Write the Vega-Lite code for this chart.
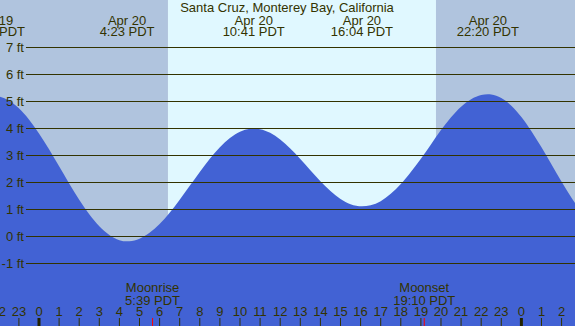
{
  "$schema": "https://vega.github.io/schema/vega-lite/v6.json",
  "width": 575,
  "height": 326,
  "autosize": "none",
  "padding": 0,
  "config": {
    "view": {"stroke": null},
    "text": {"font": "Liberation Sans", "fontSize": 13, "color": "#333300"}
  },
  "datasets": {
    "sky": [
      {"period": "night", "start": -3, "end": 6.417},
      {"period": "day", "start": 6.417, "end": 19.75},
      {"period": "night", "start": 19.75, "end": 28}
    ],
    "tide": [
      {"h": -2.5, "ft": 5.18},
      {"h": -2.24, "ft": 5.2},
      {"h": -2.0, "ft": 5.183},
      {"h": -1.5, "ft": 5.036},
      {"h": -1.0, "ft": 4.748},
      {"h": -0.5, "ft": 4.334},
      {"h": 0.0, "ft": 3.819},
      {"h": 0.5, "ft": 3.23},
      {"h": 1.0, "ft": 2.601},
      {"h": 1.5, "ft": 1.967},
      {"h": 2.0, "ft": 1.362},
      {"h": 2.5, "ft": 0.823},
      {"h": 3.0, "ft": 0.38},
      {"h": 3.5, "ft": 0.057},
      {"h": 4.0, "ft": -0.135},
      {"h": 4.383, "ft": -0.18},
      {"h": 4.5, "ft": -0.176},
      {"h": 5.0, "ft": -0.082},
      {"h": 5.5, "ft": 0.136},
      {"h": 6.0, "ft": 0.463},
      {"h": 6.5, "ft": 0.88},
      {"h": 7.0, "ft": 1.361},
      {"h": 7.5, "ft": 1.876},
      {"h": 8.0, "ft": 2.392},
      {"h": 8.5, "ft": 2.88},
      {"h": 9.0, "ft": 3.307},
      {"h": 9.5, "ft": 3.645},
      {"h": 10.0, "ft": 3.88},
      {"h": 10.5, "ft": 3.992},
      {"h": 10.683, "ft": 4.0},
      {"h": 11.0, "ft": 3.975},
      {"h": 11.5, "ft": 3.839},
      {"h": 12.0, "ft": 3.595},
      {"h": 12.5, "ft": 3.263},
      {"h": 13.0, "ft": 2.873},
      {"h": 13.5, "ft": 2.455},
      {"h": 14.0, "ft": 2.046},
      {"h": 14.5, "ft": 1.682},
      {"h": 15.0, "ft": 1.389},
      {"h": 15.5, "ft": 1.198},
      {"h": 16.067, "ft": 1.12},
      {"h": 16.5, "ft": 1.16},
      {"h": 17.0, "ft": 1.31},
      {"h": 17.5, "ft": 1.58},
      {"h": 18.0, "ft": 1.94},
      {"h": 18.5, "ft": 2.39},
      {"h": 19.0, "ft": 2.88},
      {"h": 19.5, "ft": 3.41},
      {"h": 20.0, "ft": 3.94},
      {"h": 20.5, "ft": 4.42},
      {"h": 21.0, "ft": 4.81},
      {"h": 21.5, "ft": 5.085},
      {"h": 22.0, "ft": 5.24},
      {"h": 22.333, "ft": 5.27},
      {"h": 22.5, "ft": 5.261},
      {"h": 23.0, "ft": 5.128},
      {"h": 23.5, "ft": 4.845},
      {"h": 24.0, "ft": 4.427},
      {"h": 24.5, "ft": 3.901},
      {"h": 25.0, "ft": 3.302},
      {"h": 25.5, "ft": 2.663},
      {"h": 26.0, "ft": 2.026},
      {"h": 26.5, "ft": 1.428},
      {"h": 27.0, "ft": 0.908},
      {"h": 27.5, "ft": 0.502}
    ],
    "feet": [
      {"ft": -1, "label": "-1 ft"},
      {"ft": 0, "label": "0 ft"},
      {"ft": 1, "label": "1 ft"},
      {"ft": 2, "label": "2 ft"},
      {"ft": 3, "label": "3 ft"},
      {"ft": 4, "label": "4 ft"},
      {"ft": 5, "label": "5 ft"},
      {"ft": 6, "label": "6 ft"},
      {"ft": 7, "label": "7 ft"}
    ],
    "extremes": [
      {"h": -2.24, "date": "Apr 19", "time": "21:46 PDT"},
      {"h": 4.383, "date": "Apr 20", "time": "4:23 PDT"},
      {"h": 10.683, "date": "Apr 20", "time": "10:41 PDT"},
      {"h": 16.067, "date": "Apr 20", "time": "16:04 PDT"},
      {"h": 22.333, "date": "Apr 20", "time": "22:20 PDT"}
    ],
    "moon": [
      {"h": 5.65, "event": "Moonrise", "time": "5:39 PDT"},
      {"h": 19.167, "event": "Moonset", "time": "19:10 PDT"}
    ],
    "hours": [
      {"h": -2, "label": "22", "midnight": false},
      {"h": -1, "label": "23", "midnight": false},
      {"h": 0, "label": "0", "midnight": true},
      {"h": 1, "label": "1", "midnight": false},
      {"h": 2, "label": "2", "midnight": false},
      {"h": 3, "label": "3", "midnight": false},
      {"h": 4, "label": "4", "midnight": false},
      {"h": 5, "label": "5", "midnight": false},
      {"h": 6, "label": "6", "midnight": false},
      {"h": 7, "label": "7", "midnight": false},
      {"h": 8, "label": "8", "midnight": false},
      {"h": 9, "label": "9", "midnight": false},
      {"h": 10, "label": "10", "midnight": false},
      {"h": 11, "label": "11", "midnight": false},
      {"h": 12, "label": "12", "midnight": false},
      {"h": 13, "label": "13", "midnight": false},
      {"h": 14, "label": "14", "midnight": false},
      {"h": 15, "label": "15", "midnight": false},
      {"h": 16, "label": "16", "midnight": false},
      {"h": 17, "label": "17", "midnight": false},
      {"h": 18, "label": "18", "midnight": false},
      {"h": 19, "label": "19", "midnight": false},
      {"h": 20, "label": "20", "midnight": false},
      {"h": 21, "label": "21", "midnight": false},
      {"h": 22, "label": "22", "midnight": false},
      {"h": 23, "label": "23", "midnight": false},
      {"h": 24, "label": "0", "midnight": true},
      {"h": 25, "label": "1", "midnight": false},
      {"h": 26, "label": "2", "midnight": false}
    ]
  },
  "layer": [
    {
      "data": {"name": "sky"},
      "mark": {"type": "rect", "clip": true},
      "encoding": {
        "x": {"field": "start", "type": "quantitative", "scale": {"domain": [-1.94, 26.667], "nice": false, "zero": false}, "axis": null},
        "x2": {"field": "end"},
        "y": {"datum": 8.7593, "type": "quantitative", "scale": {"domain": [-3.3148, 8.7593], "nice": false, "zero": false}, "axis": null},
        "y2": {"datum": -3.3148},
        "color": {"field": "period", "type": "nominal", "scale": {"domain": ["night", "day"], "range": ["#B0C4DE", "#E0F8FF"]}, "legend": null}
      }
    },
    {
      "data": {"name": "tide"},
      "mark": {"type": "area", "interpolate": "monotone", "clip": true, "color": "#4262D4"},
      "encoding": {
        "x": {"field": "h", "type": "quantitative", "scale": {"domain": [-1.94, 26.667], "nice": false, "zero": false}, "axis": null},
        "y": {"field": "ft", "type": "quantitative", "scale": {"domain": [-3.3148, 8.7593], "nice": false, "zero": false}, "axis": null},
        "y2": {"datum": -3.3148}
      }
    },
    {
      "data": {"name": "feet"},
      "mark": {"type": "rule", "color": "#333300", "strokeWidth": 1},
      "encoding": {
        "y": {"field": "ft", "type": "quantitative", "scale": {"domain": [-3.3148, 8.7593], "nice": false, "zero": false}, "axis": null},
        "x": {"datum": -0.647, "type": "quantitative", "scale": {"domain": [-1.94, 26.667], "nice": false, "zero": false}, "axis": null},
        "x2": {"datum": 26.667}
      }
    },
    {
      "data": {"name": "feet"},
      "mark": {"type": "text", "align": "right", "baseline": "alphabetic", "dy": 4},
      "encoding": {
        "y": {"field": "ft", "type": "quantitative", "scale": {"domain": [-3.3148, 8.7593], "nice": false, "zero": false}, "axis": null},
        "x": {"datum": -0.746, "type": "quantitative", "scale": {"domain": [-1.94, 26.667], "nice": false, "zero": false}, "axis": null},
        "text": {"field": "label"}
      }
    },
    {
      "data": {"values": [{"title": "Santa Cruz, Monterey Bay, California"}]},
      "mark": {"type": "text", "align": "center", "baseline": "alphabetic"},
      "encoding": {
        "x": {"datum": 12.338, "type": "quantitative", "scale": {"domain": [-1.94, 26.667], "nice": false, "zero": false}, "axis": null},
        "y": {"datum": 8.3149, "type": "quantitative", "scale": {"domain": [-3.3148, 8.7593], "nice": false, "zero": false}, "axis": null},
        "text": {"field": "title"}
      }
    },
    {
      "data": {"name": "extremes"},
      "mark": {"type": "text", "align": "center", "baseline": "alphabetic"},
      "encoding": {
        "x": {"field": "h", "type": "quantitative", "scale": {"domain": [-1.94, 26.667], "nice": false, "zero": false}, "axis": null},
        "y": {"datum": 7.8334, "type": "quantitative", "scale": {"domain": [-3.3148, 8.7593], "nice": false, "zero": false}, "axis": null},
        "text": {"field": "date"}
      }
    },
    {
      "data": {"name": "extremes"},
      "mark": {"type": "text", "align": "center", "baseline": "alphabetic"},
      "encoding": {
        "x": {"field": "h", "type": "quantitative", "scale": {"domain": [-1.94, 26.667], "nice": false, "zero": false}, "axis": null},
        "y": {"datum": 7.426, "type": "quantitative", "scale": {"domain": [-3.3148, 8.7593], "nice": false, "zero": false}, "axis": null},
        "text": {"field": "time"}
      }
    },
    {
      "data": {"name": "moon"},
      "mark": {"type": "text", "align": "center", "baseline": "alphabetic"},
      "encoding": {
        "x": {"field": "h", "type": "quantitative", "scale": {"domain": [-1.94, 26.667], "nice": false, "zero": false}, "axis": null},
        "y": {"datum": -2.0555, "type": "quantitative", "scale": {"domain": [-3.3148, 8.7593], "nice": false, "zero": false}, "axis": null},
        "text": {"field": "event"}
      }
    },
    {
      "data": {"name": "moon"},
      "mark": {"type": "text", "align": "center", "baseline": "alphabetic"},
      "encoding": {
        "x": {"field": "h", "type": "quantitative", "scale": {"domain": [-1.94, 26.667], "nice": false, "zero": false}, "axis": null},
        "y": {"datum": -2.537, "type": "quantitative", "scale": {"domain": [-3.3148, 8.7593], "nice": false, "zero": false}, "axis": null},
        "text": {"field": "time"}
      }
    },
    {
      "data": {"name": "hours"},
      "mark": {"type": "text", "align": "center", "baseline": "alphabetic"},
      "encoding": {
        "x": {"field": "h", "type": "quantitative", "scale": {"domain": [-1.94, 26.667], "nice": false, "zero": false}, "axis": null},
        "y": {"datum": -2.9444, "type": "quantitative", "scale": {"domain": [-3.3148, 8.7593], "nice": false, "zero": false}, "axis": null},
        "text": {"field": "label"}
      }
    },
    {
      "data": {"name": "hours"},
      "transform": [{"filter": "!datum.midnight"}],
      "mark": {"type": "rule", "color": "#333300", "strokeWidth": 1},
      "encoding": {
        "x": {"field": "h", "type": "quantitative", "scale": {"domain": [-1.94, 26.667], "nice": false, "zero": false}, "axis": null},
        "y": {"datum": -3.0185, "type": "quantitative", "scale": {"domain": [-3.3148, 8.7593], "nice": false, "zero": false}, "axis": null},
        "y2": {"datum": -3.3148}
      }
    },
    {
      "data": {"name": "hours"},
      "transform": [{"filter": "datum.midnight"}],
      "mark": {"type": "rule", "color": "#222200", "strokeWidth": 3},
      "encoding": {
        "x": {"field": "h", "type": "quantitative", "scale": {"domain": [-1.94, 26.667], "nice": false, "zero": false}, "axis": null},
        "y": {"datum": -3.0185, "type": "quantitative", "scale": {"domain": [-3.3148, 8.7593], "nice": false, "zero": false}, "axis": null},
        "y2": {"datum": -3.3148}
      }
    },
    {
      "data": {"name": "moon"},
      "mark": {"type": "rule", "color": "#FF0000", "strokeWidth": 1},
      "encoding": {
        "x": {"field": "h", "type": "quantitative", "scale": {"domain": [-1.94, 26.667], "nice": false, "zero": false}, "axis": null},
        "y": {"datum": -3.0185, "type": "quantitative", "scale": {"domain": [-3.3148, 8.7593], "nice": false, "zero": false}, "axis": null},
        "y2": {"datum": -3.3148}
      }
    }
  ]
}
